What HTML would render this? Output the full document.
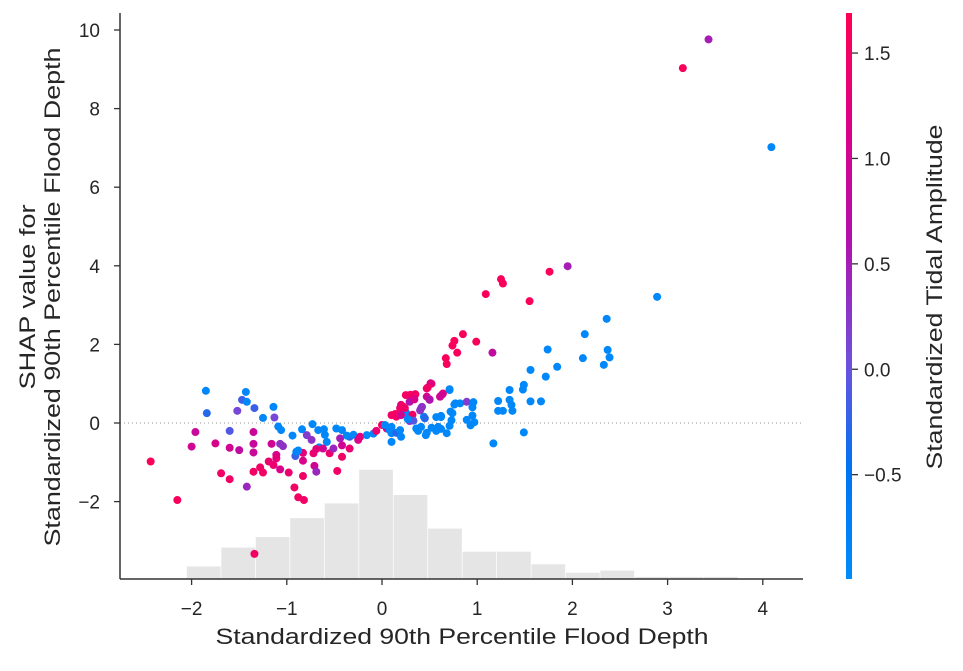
<!DOCTYPE html>
<html><head><meta charset="utf-8"><style>
body{margin:0;background:#fff}
svg{font-family:"Liberation Sans","DejaVu Sans",sans-serif}
</style></head><body>
<svg id="chart" width="963" height="666" viewBox="0 0 963 666" xmlns="http://www.w3.org/2000/svg">
<defs>
<linearGradient id="cbgrad" x1="0" y1="1" x2="0" y2="0">
<stop offset="0" stop-color="rgb(0,139,250)"/>
<stop offset="0.2" stop-color="rgb(0,115,242)"/>
<stop offset="0.38" stop-color="rgb(110,80,220)"/>
<stop offset="0.6" stop-color="rgb(178,16,172)"/>
<stop offset="0.8" stop-color="rgb(220,0,135)"/>
<stop offset="1" stop-color="rgb(255,0,82)"/>
</linearGradient>
</defs>
<g id="hist"></g>
<line x1="120" x2="803" y1="423" y2="423" stroke="#999" stroke-width="1" stroke-dasharray="1,3"/>
<g id="points"></g>
<g id="axes"></g>
<rect x="846" y="13" width="6" height="566" fill="url(#cbgrad)"/>
<g id="cbticks"></g>
<text transform="translate(942,297) rotate(-90)" text-anchor="middle" font-size="22" fill="#262626" textLength="345" lengthAdjust="spacingAndGlyphs">Standardized Tidal Amplitude</text>
<text x="462" y="644" text-anchor="middle" font-size="22" fill="#262626" textLength="493" lengthAdjust="spacingAndGlyphs">Standardized 90th Percentile Flood Depth</text>
<text transform="translate(35,297) rotate(-90)" text-anchor="middle" font-size="22" fill="#262626"><tspan x="0" dy="0" textLength="185" lengthAdjust="spacingAndGlyphs">SHAP value for</tspan><tspan x="0" dy="25" textLength="499" lengthAdjust="spacingAndGlyphs">Standardized 90th Percentile Flood Depth</tspan></text>
</svg>
<script>
const xTicks=[-2,-1,0,1,2,3,4];
const yTicks=[-2,0,2,4,6,8,10];
const cTicks=[-0.5,0.0,0.5,1.0,1.5];
const histStart=-2.05;
const histWidth=0.362;
const histCounts=[6,15,20,29,36,52,40,24,13,13,7,3,4,1,1,1];
const ptX=[-1.85,-1.84,-1.43,-1.47,-1.42,-1.52,-1.34,-1.14,-1.25,-1.13,-1.96,-2.0,-2.43,-2.15,-1.75,-1.6,-1.6,-1.5,-1.35,-1.35,-1.35,-1.69,-1.6,-1.42,-1.35,-1.28,-1.25,-1.16,-1.19,-1.14,-1.11,-1.11,-1.07,-1.07,-1.04,-0.98,-0.92,-0.88,-0.82,-0.83,-0.83,-0.83,-0.91,-0.9,-0.88,-0.71,-0.69,-1.34,-1.09,-1.06,-0.94,-0.84,-0.73,-0.79,-0.74,-0.67,-0.61,-0.6,-0.58,-0.66,-0.72,-0.69,-0.62,-0.55,-0.51,-0.48,-0.42,-0.44,-0.42,-0.47,-0.42,-0.34,-0.34,-0.3,-0.37,-0.25,-0.23,-0.16,-0.09,-0.06,0,0.05,0.08,0.1,0.1,0.15,0.19,0.1,0.15,0.19,0.2,0.22,0.25,0.29,0.35,0.25,0.29,0.36,0.42,0.44,0.46,0.47,0.52,0.5,0.61,0.64,0.71,0.62,0.73,0.68,0.62,0.76,1.95,1.76,1.25,1.27,1.09,1.55,2.89,2.36,2.13,2.37,2.39,2.33,2.11,1.74,1.84,1.72,1.56,1.49,1.48,1.34,1.34,1.36,1.37,1.27,1.22,1.22,1.56,1.67,1.49,1.17,0.85,0.99,0.76,0.74,0.79,0.67,0.68,1.16,0.71,0.51,0.48,0.47,0.5,0.61,0.63,0.35,0.3,0.34,0.77,0.82,0.89,0.96,0.95,0.95,0.97,0.93,0.89,0.72,0.74,0.71,0.62,0.57,0.59,0.57,0.52,0.47,0.41,0.4,0.45,0.41,0.32,0.24,0.14,0.2,0.33,0.27,0.38,0.1,0.03,0.2,3.43,3.16,4.09];
const ptY=[0.82,0.25,0.79,0.59,0.54,0.31,0.38,0.41,0.13,0.14,-0.23,-0.6,-0.98,-1.96,-0.52,-0.2,-0.63,-0.69,-0.23,-0.53,-0.75,-1.28,-1.43,-1.62,-1.24,-1.13,-1.26,-0.53,-0.98,-1.07,-0.81,-0.9,-1.18,-0.53,-0.59,-1.26,-1.64,-1.89,-1.96,-1.35,-0.96,-0.76,-0.84,-0.73,-0.7,-1.09,-1.24,-3.33,-0.09,-0.18,-0.32,-0.16,-0.03,-0.31,-0.43,-0.18,-0.16,-0.3,-0.48,-0.62,-0.77,-0.66,-0.65,-0.77,-0.65,-0.14,-0.18,-0.39,-0.86,-1.22,-0.57,-0.35,-0.65,-0.3,-0.32,-0.43,-0.35,-0.31,-0.27,-0.2,-0.05,-0.14,-0.18,-0.26,-0.48,-0.25,-0.18,0.2,0.16,0.38,0.46,0.42,0.71,0.54,0.73,0.27,0.05,-0.14,0.41,0.16,-0.31,0.88,1.0,0.6,0.67,0.75,0.86,0.18,0.07,-0.26,-0.15,0.47,3.99,3.85,3.66,3.55,3.28,3.1,3.21,2.65,2.26,1.86,1.67,1.48,1.65,1.87,1.43,1.18,1.35,0.97,0.85,0.84,0.59,0.46,0.31,0.31,0.31,0.56,0.55,0.55,-0.24,-0.52,2.26,2.07,2.09,1.97,1.79,1.65,1.5,1.79,0.84,1.01,0.9,0.67,0.59,0.67,0.72,0.73,0.72,0.6,0.5,0.5,0.54,0.53,0.4,0.19,0.02,-0.06,0.08,0.29,0.25,-0.07,0.15,0.15,-0.1,-0.2,-0.12,-0.25,0.37,0.32,0.12,-0.1,0.21,0.38,0.23,0.2,0.06,0.1,-0.2,-0.1,-0.05,-0.35,9.76,9.03,7.02];
const ptC=[-0.9,-0.3,-0.9,-0.2,-0.9,0.1,-0.2,-0.9,-0.9,0.1,0.9,1.0,1.6,1.6,1.1,-0.1,1.0,0.8,0.9,0.9,0.9,1.5,1.5,0.4,1.5,1.5,1.5,1.0,1.4,1.4,1.1,1.3,1.1,0.3,0.3,1.4,1.5,1.5,1.5,1.5,1.1,1.3,-0.2,-0.8,-0.9,1.0,0.4,1.5,-0.9,-0.9,-0.9,-0.9,-0.9,0.2,0.3,-0.9,-0.9,-0.9,-0.9,-0.9,1.4,1.3,1.0,1.4,0.4,-0.9,-0.9,0.5,1.5,1.5,1.0,-0.2,1.4,-0.9,-0.9,1.1,1.3,-0.9,-0.9,1.4,1.5,1.0,-0.9,-0.9,-0.9,-0.3,-0.9,1.5,1.5,1.5,1.3,1.5,1.5,0.6,1.5,-0.9,0.2,-0.9,0.3,-0.9,-0.9,1.5,1.5,1.0,1.0,1.5,-0.9,-0.9,-0.9,-0.9,-0.9,-0.9,0.5,1.6,1.6,1.6,1.6,1.6,-0.9,-0.9,-0.9,-0.9,-0.9,-0.9,-0.9,-0.9,-0.9,-0.9,-0.9,-0.9,-0.9,-0.9,-0.9,-0.9,-0.9,-0.9,-0.9,-0.9,-0.9,-0.9,-0.9,-0.9,1.6,1.6,1.6,1.6,1.6,1.6,1.6,0.8,-0.9,1.2,1.5,1.0,0.6,1.0,1.0,1.5,1.5,1.1,-0.9,-0.9,0.2,-0.9,-0.9,-0.9,-0.9,-0.9,-0.9,-0.9,-0.9,-0.9,-0.9,-0.9,-0.9,-0.9,-0.9,-0.9,0.3,0.3,-0.3,-0.9,1.5,1.5,1.5,1.0,-0.1,-0.9,-0.9,-0.9,-0.9,-0.9,0.5,1.6,-0.9];

const X=v=>382+v*95.2;
const Y=v=>423-v*39.3;
const cMin=-0.995,cMax=1.69;
const CY=v=>579-(v-cMin)/(cMax-cMin)*566;
const stops=[[0,[0,139,250]],[0.2,[0,115,242]],[0.38,[110,80,220]],[0.6,[178,16,172]],[0.8,[220,0,135]],[1,[255,0,82]]];
function color(v){let t=(v-cMin)/(cMax-cMin);t=Math.max(0,Math.min(1,t));
for(let i=1;i<stops.length;i++){if(t<=stops[i][0]){const a=stops[i-1],b=stops[i],f=(t-a[0])/(b[0]-a[0]);
return 'rgb('+a[1].map((c,k)=>Math.round(c+(b[1][k]-c)*f)).join(',')+')';}}return 'rgb(255,0,82)';}
const NS='http://www.w3.org/2000/svg';
function mk(tag,attrs,parent){const e=document.createElementNS(NS,tag);for(const k in attrs)e.setAttribute(k,attrs[k]);parent.appendChild(e);return e;}
const hist=document.getElementById('hist');
histCounts.forEach((c,i)=>{const x0=X(histStart+i*histWidth),x1=X(histStart+(i+1)*histWidth);const h=c*2.1;
const r=mk('rect',{x:x0,y:579-h,width:x1-x0-0.7,height:h,fill:'#e5e5e5'},hist);

});
const pts=document.getElementById('points');
ptX.forEach((x,i)=>{const c=mk('circle',{cx:X(x),cy:Y(ptY[i]),r:4,fill:color(ptC[i])},pts);

});
const ax=document.getElementById('axes');
mk('line',{x1:120,x2:120,y1:13,y2:579,stroke:'#333','stroke-width':1.5},ax);
mk('line',{x1:120,x2:803,y1:579,y2:579,stroke:'#333','stroke-width':1.5},ax);
xTicks.forEach(v=>{mk('line',{x1:X(v),x2:X(v),y1:579,y2:585,stroke:'#333','stroke-width':1.3},ax);
const t=mk('text',{x:X(v),y:615,'text-anchor':'middle','font-size':19,fill:'#262626'},ax);t.textContent=v<0?'\u2212'+(-v):String(v);

});
yTicks.forEach(v=>{mk('line',{x1:114,x2:120,y1:Y(v),y2:Y(v),stroke:'#333','stroke-width':1.3},ax);
const t=mk('text',{x:100,y:Y(v)+7,'text-anchor':'end','font-size':19,fill:'#262626'},ax);t.textContent=v<0?'\u2212'+(-v):String(v);

});
const cb=document.getElementById('cbticks');
cTicks.forEach(v=>{mk('line',{x1:852,x2:858,y1:CY(v),y2:CY(v),stroke:'#333','stroke-width':1.3},cb);
const t=mk('text',{x:864,y:CY(v)+7,'font-size':19,fill:'#262626'},cb);t.textContent=v<0?'\u2212'+(-v).toFixed(1):v.toFixed(1);

});
</script>
</body></html>
